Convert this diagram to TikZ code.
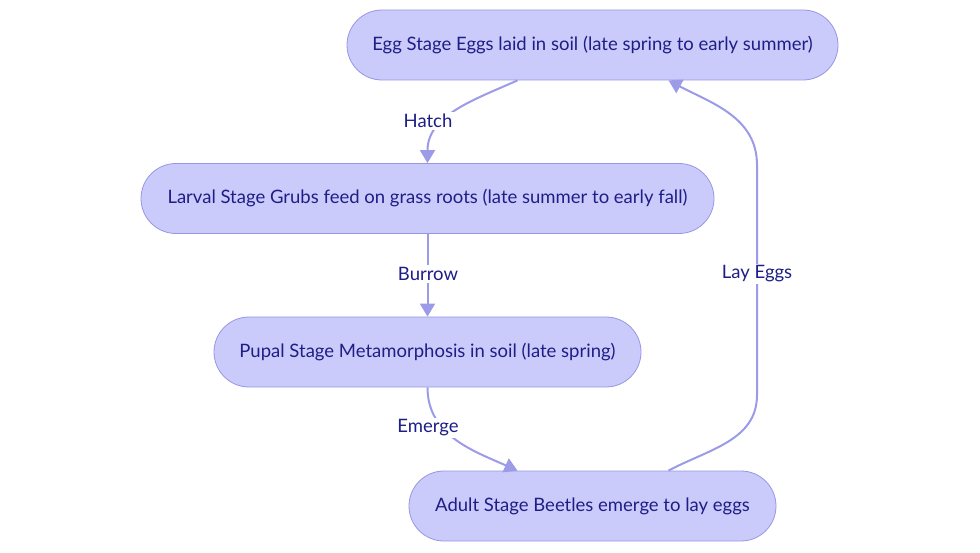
\documentclass[tikz,border=0pt]{standalone}
\usepackage{fontspec}
\setmainfont{Lato}
\usetikzlibrary{arrows.meta}
\definecolor{nodefill}{RGB}{203,203,251}
\definecolor{nodeline}{RGB}{150,150,228}
\definecolor{edgecol}{RGB}{155,155,232}
\definecolor{txt}{RGB}{30,30,135}
\tikzset{
  stage/.style={draw=nodeline, fill=nodefill, rounded corners=35pt, minimum height=70pt, inner sep=0pt, text=txt, font=\fontsize{18.5}{22}\selectfont, line width=0.8pt},
  edge/.style={draw=edgecol, line width=2pt, -{Triangle[length=13pt,width=15pt]}},
  lbl/.style={fill=white, text=txt, font=\fontsize{18.5}{22}\selectfont, inner sep=2pt}
}
\begin{document}
\begin{tikzpicture}[x=1pt,y=-1pt]
\useasboundingbox (0,0) rectangle (980,553);
\node[stage, minimum width=491pt] (egg) at (592.5,45) {Egg Stage Eggs laid in soil (late spring to early summer)};
\node[stage, minimum width=573pt] (larval) at (427.5,198.5) {Larval Stage Grubs feed on grass roots (late summer to early fall)};
\node[stage, minimum width=427pt] (pupal) at (427.5,352) {Pupal Stage Metamorphosis in soil (late spring)};
\node[stage, minimum width=367pt] (adult) at (592.5,506) {Adult Stage Beetles emerge to lay eggs};

\coordinate (eggA) at ([xshift=-75pt]egg.south);
\coordinate (eggB) at ([xshift=76pt]egg.south);
\coordinate (adultA) at ([xshift=-75pt]adult.north);
\coordinate (adultB) at ([xshift=76pt]adult.north);
\coordinate (layTop) at (757,165);
\coordinate (layBot) at (757,395);

\draw[edge] (eggA) to[out=-156,in=90] (larval.north);
\node[lbl] (hatch) at (428,121) {Hatch};

\draw[edge] (larval.south) -- (pupal.north);
\node[lbl] (burrow) at (428,274) {Burrow};

\draw[edge] (pupal.south) to[out=-90,in=156] (adultA);
\node[lbl] (emerge) at (428,428) {Emerge};

\draw[edge] (adultB) to[out=28,in=-90] (layBot) -- (layTop) to[out=90,in=-28] (eggB);
\node[lbl] (layeggs) at (757,274) {Lay Eggs};
\end{tikzpicture}
\end{document}
